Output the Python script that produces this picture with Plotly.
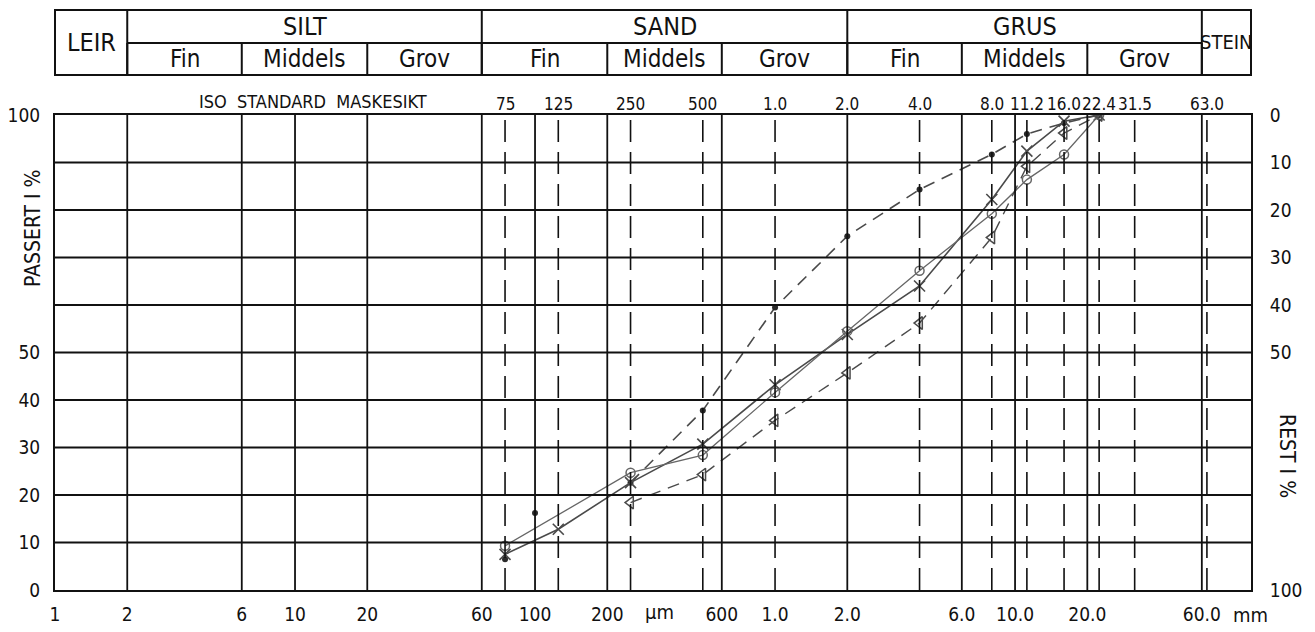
import numpy as np
import plotly.graph_objects as go

# ---------------- data ----------------
# ISO standard sieves (µm) and their labels
sieve_um = [75, 125, 250, 500, 1000, 2000, 4000, 8000, 11200, 16000, 22400, 31500, 63000]
sieve_labels = ['75', '125', '250', '500', '1.0', '2.0', '4.0', '8.0', '11.2', '16.0', '22.4', '31.5', '63.0']

# solid grid sizes (µm)
solid_x = [2, 6, 10, 20, 60, 100, 200, 600, 2000, 6000, 10000, 20000, 60000]

# x tick labels
xtick_vals = [1, 2, 6, 10, 20, 60, 100, 200, 600, 1000, 2000, 6000, 10000, 20000, 60000]
xtick_text = ['1', '2', '6', '10', '20', '60', '100', '200', '600', '1.0', '2.0', '6.0', '10.0', '20.0', '60.0']

# y ticks
ytick_left = [0, 10, 20, 30, 40, 50, 100]
ytick_right = [0, 10, 20, 30, 40, 50, 100]

# fraction header
main_names = ['SILT', 'SAND', 'GRUS']
main_bounds = [(2, 60), (60, 2000), (2000, 60000)]
sub_names = ['Fin', 'Middels', 'Grov'] * 3
sub_bounds = [2, 6, 20, 60, 200, 600, 2000, 6000, 20000, 60000]

# series (passing %)
a_pts_x = [75, 100]
a_pts_y = [6.5, 16.2]
a_x = [250, 500, 1000, 2000, 4000, 8000, 11200, 16000, 22400]
a_y = [22.6, 37.8, 59.5, 74.5, 84.3, 91.7, 96.0, 98.3, 100]

b_x = [75, 125, 250, 500, 1000, 2000, 4000, 8000, 11200, 16000, 22400]
b_y = [7.5, 12.8, 22.6, 30.7, 43.2, 53.8, 64.0, 82.2, 92.4, 98.7, 100]

c_x = [75, 250, 500, 1000, 2000, 4000, 8000, 11200, 16000, 22400]
c_y = [9.3, 24.7, 28.4, 41.6, 54.5, 67.2, 79.2, 86.4, 91.7, 100]

d_x = [250, 500, 1000, 2000, 4000, 8000, 11200, 16000, 22400]
d_y = [18.4, 24.3, 35.7, 45.7, 56.2, 74.2, 89.2, 96.2, 100]

# ---------------- styling ----------------
FONT = "DejaVu Sans Condensed, Liberation Sans Narrow, DejaVu Sans, sans-serif"
INK = "#111111"
PEN = "#4a4a4a"
XMAX_LOG = 4.983

OFF = 8  # page body margin
W, H = 1315 - OFF, 632 - OFF
ML, MR, MT, MB = 55 - OFF, 64, 115 - OFF, 42
PH = H - MT - MB
PW = W - ML - MR


def py(pix):
    """page pixel row -> paper y"""
    return (OFF + H - MB - pix) / PH


def px(pix):
    """page pixel column -> paper x"""
    return (pix - OFF - ML) / PW


fig = go.Figure()

fig.add_trace(go.Scatter(x=a_x, y=a_y, mode='lines+markers',
                         line=dict(color=PEN, width=1.6, dash='12px,8px'),
                         marker=dict(symbol='circle', size=6, color='#2a2a2a')))
fig.add_trace(go.Scatter(x=a_pts_x, y=a_pts_y, mode='markers',
                         marker=dict(symbol='circle', size=6, color='#2a2a2a')))
fig.add_trace(go.Scatter(x=b_x, y=b_y, mode='lines+markers',
                         line=dict(color=PEN, width=1.6),
                         marker=dict(symbol='x-thin-open', size=11,
                                     line=dict(color='#333333', width=1.6))))
fig.add_trace(go.Scatter(x=c_x, y=c_y, mode='lines+markers',
                         line=dict(color='#666666', width=1.3),
                         marker=dict(symbol='circle-open', size=9,
                                     line=dict(color='#444444', width=1.5))))
fig.add_trace(go.Scatter(x=d_x, y=d_y, mode='lines+markers',
                         line=dict(color=PEN, width=1.4, dash='12px,8px'),
                         marker=dict(symbol='triangle-left-open', size=11,
                                     line=dict(color='#444444', width=1.5))))
# invisible trace for the right axis
fig.add_trace(go.Scatter(x=[1], y=[100], yaxis='y2', mode='markers',
                         marker=dict(opacity=0), hoverinfo='skip'))

shapes = []
# solid vertical grid
for v in solid_x:
    shapes.append(dict(type='line', xref='x', yref='paper', x0=v, x1=v, y0=0, y1=1,
                       line=dict(color=INK, width=1.8)))
# dashed sieve lines
for v in sieve_um:
    if v in solid_x:
        continue
    shapes.append(dict(type='line', xref='x', yref='paper', x0=v, x1=v, y0=0, y1=1,
                       line=dict(color=INK, width=1.6, dash='22px,10px')))
# horizontal grid every 10 %
for v in range(10, 100, 10):
    shapes.append(dict(type='line', xref='paper', yref='y', x0=0, x1=1, y0=v, y1=v,
                       line=dict(color=INK, width=1.8)))

# header table
y_top, y_mid, y_bot = py(10), py(43), py(75)
shapes.append(dict(type='rect', xref='paper', yref='paper', x0=0, x1=1, y0=y_bot, y1=y_top,
                   line=dict(color=INK, width=2)))
for lo, hi in main_bounds:
    shapes.append(dict(type='line', xref='x', yref='paper', x0=lo, x1=lo, y0=y_bot, y1=y_top,
                       line=dict(color=INK, width=2)))
shapes.append(dict(type='line', xref='x', yref='paper', x0=60000, x1=60000, y0=y_bot, y1=y_top,
                   line=dict(color=INK, width=2)))
shapes.append(dict(type='line', xref='x', yref='paper', x0=2, x1=60000, y0=y_mid, y1=y_mid,
                   line=dict(color=INK, width=2)))
for v in sub_bounds:
    shapes.append(dict(type='line', xref='x', yref='paper', x0=v, x1=v, y0=y_bot, y1=y_mid,
                       line=dict(color=INK, width=2)))

ann = []
tf = dict(family=FONT, color=INK)
C = dict(xanchor='center', yanchor='middle', showarrow=False)
ann.append(dict(x=np.log10(np.sqrt(1 * 2)), y=(y_top + y_bot) / 2, xref='x', yref='paper',
                text='LEIR', font=dict(size=25, **tf), **C))
for name, (lo, hi) in zip(main_names, main_bounds):
    ann.append(dict(x=np.log10(np.sqrt(lo * hi)), y=(y_top + y_mid) / 2, xref='x', yref='paper',
                    text=name, font=dict(size=25, **tf), **C))
for i, name in enumerate(sub_names):
    lo, hi = sub_bounds[i], sub_bounds[i + 1]
    ann.append(dict(x=np.log10(np.sqrt(lo * hi)), y=(y_mid + y_bot) / 2, xref='x', yref='paper',
                    text=name, font=dict(size=24, **tf), **C))
ann.append(dict(x=(np.log10(60000) + XMAX_LOG) / 2, y=(y_top + y_bot) / 2, xref='x', yref='paper',
                text='STEIN', font=dict(size=20, **tf), **C))

# sieve labels
for v, t in zip(sieve_um, sieve_labels):
    ann.append(dict(x=np.log10(v), y=1, xref='x', yref='paper', xanchor='center',
                    yanchor='bottom', yshift=-1, text=t, showarrow=False,
                    font=dict(size=17, **tf)))
ann.append(dict(x=np.log10(11.9), y=1, xref='x', yref='paper', xanchor='center',
                yanchor='bottom', yshift=1, text='ISO  STANDARD  MASKESIKT', showarrow=False,
                font=dict(size=18, **tf)))

# unit labels
ann.append(dict(x=np.log10(330), y=0, xref='x', yref='paper', xanchor='center', yanchor='top',
                yshift=-8, text='µm', showarrow=False, font=dict(size=20, **tf)))
ann.append(dict(x=1, y=0, xref='paper', yref='paper', xanchor='left', yanchor='top',
                xshift=-20, yshift=-11, text='mm', showarrow=False, font=dict(size=20, **tf)))

# axis titles
ann.append(dict(x=px(33), y=py(228), xref='paper', yref='paper',
                text='PASSERT I %', textangle=-90, font=dict(size=21, **tf), **C))
ann.append(dict(x=px(1287), y=py(456), xref='paper', yref='paper',
                text='REST I %', textangle=90, font=dict(size=21, **tf), **C))

fig.update_layout(
    width=W, height=H,
    margin=dict(l=ML, r=MR, t=MT, b=MB, pad=0, autoexpand=False),
    paper_bgcolor='white', plot_bgcolor='white',
    showlegend=False,
    font=dict(family=FONT, color=INK, size=19),
    shapes=shapes,
    annotations=ann,
    xaxis=dict(type='log', range=[0, XMAX_LOG], showgrid=False, zeroline=False,
               automargin=False,
               tickvals=xtick_vals, ticktext=xtick_text,
               ticks='outside', ticklen=6, tickcolor='rgba(0,0,0,0)',
               showline=True, linecolor=INK, linewidth=2, mirror=True,
               tickfont=dict(size=19, family=FONT, color=INK)),
    yaxis=dict(range=[0, 100], tickvals=ytick_left, ticktext=[str(v) for v in ytick_left],
               showgrid=False, zeroline=False, automargin=False,
               showline=True, linecolor=INK, linewidth=2, mirror=True,
               ticks='outside', ticklen=9, tickcolor='rgba(0,0,0,0)',
               tickfont=dict(size=19, family=FONT, color=INK)),
    yaxis2=dict(range=[100, 0], overlaying='y', side='right', showgrid=False, zeroline=False,
                automargin=False,
                tickvals=ytick_right, ticktext=[str(v) for v in ytick_right],
                ticks='outside', ticklen=14, tickcolor='rgba(0,0,0,0)',
                tickfont=dict(size=19, family=FONT, color=INK)),
)

fig.write_html("out.html")
